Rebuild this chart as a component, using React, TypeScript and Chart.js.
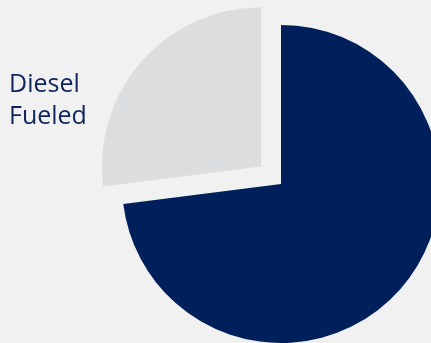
import React, { useEffect, useRef } from "react";
import { Chart, registerables } from "chart.js";

Chart.register(...registerables);

const categories: string[] = ["Other", "Diesel Fueled"];
const values: number[] = [73, 27];
const colors: string[] = ["#00205B", "#DCDDDF"];
const offsets: number[] = [0, 106];
const labelLines: string[] = ["Diesel", "Fueled"];

export default function App() {
  const ref = useRef<HTMLCanvasElement | null>(null);

  useEffect(() => {
    if (!ref.current) return;
    const chart = new Chart(ref.current, {
      type: "pie",
      data: {
        labels: categories,
        datasets: [
          {
            data: values,
            backgroundColor: colors,
            borderWidth: 0,
            offset: offsets,
            hoverOffset: 0,
            clip: false,
          } as any,
        ],
      },
      options: {
        responsive: false,
        animation: false,
        radius: 159,
        layout: { padding: { left: 131, top: 25, right: 0, bottom: 0 } },
        plugins: {
          legend: { display: false },
          tooltip: { enabled: false },
        },
        events: [],
      } as any,
    });
    return () => chart.destroy();
  }, []);

  return (
    <div
      style={{
        position: "fixed",
        left: 0,
        top: 0,
        width: 431,
        height: 343,
        background: "#F1F1F1",
        overflow: "hidden",
      }}
    >
      <canvas ref={ref} width={431} height={343} style={{ position: "absolute", left: 0, top: 0 }} />
      <div
        style={{
          position: "absolute",
          left: 9,
          top: 66,
          fontFamily: "'Open Sans', sans-serif",
          fontSize: 25,
          lineHeight: "32px",
          color: "#0F255C",
        }}
      >
        {labelLines.map((l) => (
          <div key={l}>{l}</div>
        ))}
      </div>
    </div>
  );
}
